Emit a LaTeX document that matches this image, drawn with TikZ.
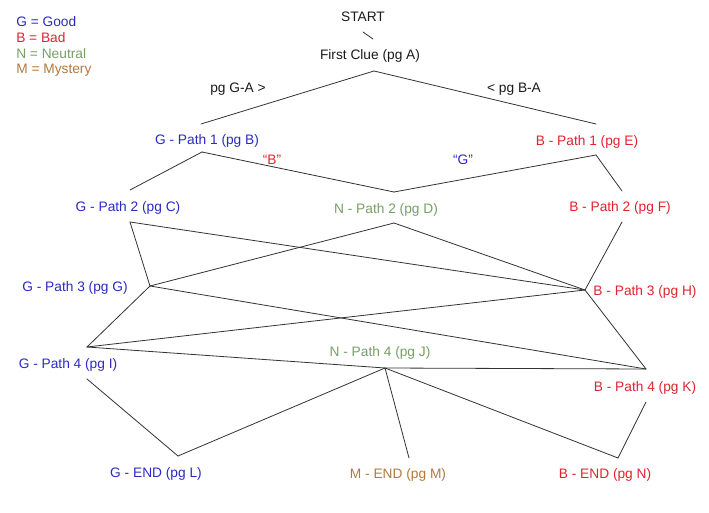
\documentclass[tikz,border=0pt]{standalone}
\usepackage{fontspec}
\setmainfont{Liberation Sans}
\usepackage{xcolor}
\usepackage{tikz}
\usetikzlibrary{positioning}
\definecolor{trGood}{HTML}{2B2BC2}
\definecolor{trBad}{HTML}{E0242F}
\definecolor{trNeutral}{HTML}{76A066}
\definecolor{trMystery}{HTML}{B07A3E}
\definecolor{trInk}{HTML}{1A1A1A}
\definecolor{trLine}{HTML}{333333}
\tikzset{
  tr diagram/.style={x=0.75pt, y=-0.75pt, font=\fontsize{10.3}{12}\selectfont,
    text=trInk, line cap=round, line join=round},
  tr step/.style={inner sep=0pt, anchor=center, yshift=-1pt},
  tr good/.style={tr step, text=trGood},
  tr bad/.style={tr step, text=trBad},
  tr neutral/.style={tr step, text=trNeutral},
  tr mystery/.style={tr step, text=trMystery},
  tr key/.style={inner sep=0pt, anchor=west, yshift=-1pt},
  tr link/.style={draw=trLine, line width=0.6pt}
}

\begin{document}
\begin{tikzpicture}[tr diagram]
\fill[white] (0,0) rectangle (709,513);
\useasboundingbox (0,0) rectangle (709,513);
% key
\foreach \txt/\col [count=\i] in {G = Good/trGood,B = Bad/trBad,N = Neutral/trNeutral,M = Mystery/trMystery}
  \node[tr key,text=\col] (key\i) at (16,{20+16.3*(\i-1)}) {\txt};
% steps
\node[tr step] (start) at (363,15) {START};
\node[tr step] (clue) at (370,55) {First Clue (pg A)};
\node[tr step] (goA) at (238,88) {pg G-A >};
\node[tr step] (boA) at (514,88) {< pg B-A};
\node[tr good] (gp1) at (207,140) {G - Path 1 (pg B)};
\node[tr bad] (bp1) at (587,141) {B - Path 1 (pg E)};
\node[tr bad] (saysB) at (272,158) {“B”};
\node[tr good] (saysG) at (463,158) {“G”};
\node[tr good] (gp2) at (128,207) {G - Path 2 (pg C)};
\node[tr neutral] (np2) at (386,209) {N - Path 2 (pg D)};
\node[tr bad] (bp2) at (620,207) {B - Path 2 (pg F)};
\node[tr good] (gp3) at (75,287) {G - Path 3 (pg G)};
\node[tr bad] (bp3) at (645,291) {B - Path 3 (pg H)};
\node[tr good] (gp4) at (68,364) {G - Path 4 (pg I)};
\node[tr neutral] (np4) at (380,352) {N - Path 4 (pg J)};
\node[tr bad] (bp4) at (645,387) {B - Path 4 (pg K)};
\node[tr good] (gend) at (156,473) {G - END (pg L)};
\node[tr mystery] (mend) at (398,474) {M - END (pg M)};
\node[tr bad] (bend) at (605,474) {B - END (pg N)};
% ports
\coordinate (start-b) at (363,32);
\coordinate (clue-t) at (373,39);
\coordinate (clue-b) at (374,71);
\coordinate (gp1-t) at (201,124);
\coordinate (gp1-b) at (202,152);
\coordinate (bp1-t) at (596,124);
\coordinate (bp1-b) at (596,155);
\coordinate (gp2-t) at (130,190);
\coordinate (gp2-b) at (130,222);
\coordinate (np2-t) at (394,192);
\coordinate (np2-b) at (394,223);
\coordinate (bp2-t) at (622,191);
\coordinate (bp2-b) at (622,222);
\coordinate (gp3-r) at (150,286);
\coordinate (bp3-l) at (585,290);
\coordinate (gp4-t) at (87,347);
\coordinate (gp4-b) at (87,379);
\coordinate (np4-b) at (385,368);
\coordinate (bp4-t) at (646,369);
\coordinate (bp4-b) at (646,402);
\coordinate (gend-t) at (178,456);
\coordinate (mend-t) at (409,458);
\coordinate (bend-t) at (618,458);
% links
\foreach \a/\b in {start-b/clue-t,clue-b/gp1-t,clue-b/bp1-t,gp1-b/gp2-t,gp1-b/np2-t,bp1-b/np2-t,bp1-b/bp2-t,
  bp2-b/bp3-l,gp2-b/gp3-r,gp2-b/bp3-l,np2-b/gp3-r,np2-b/bp3-l,gp3-r/gp4-t,gp3-r/bp4-t,
  gp4-t/bp3-l,gp4-t/np4-b,np4-b/bp4-t,bp3-l/bp4-t,gp4-b/gend-t,np4-b/gend-t,np4-b/mend-t,
  np4-b/bend-t,bp4-b/bend-t}
  \draw[tr link] (\a) -- (\b);
\end{tikzpicture}
\end{document}
